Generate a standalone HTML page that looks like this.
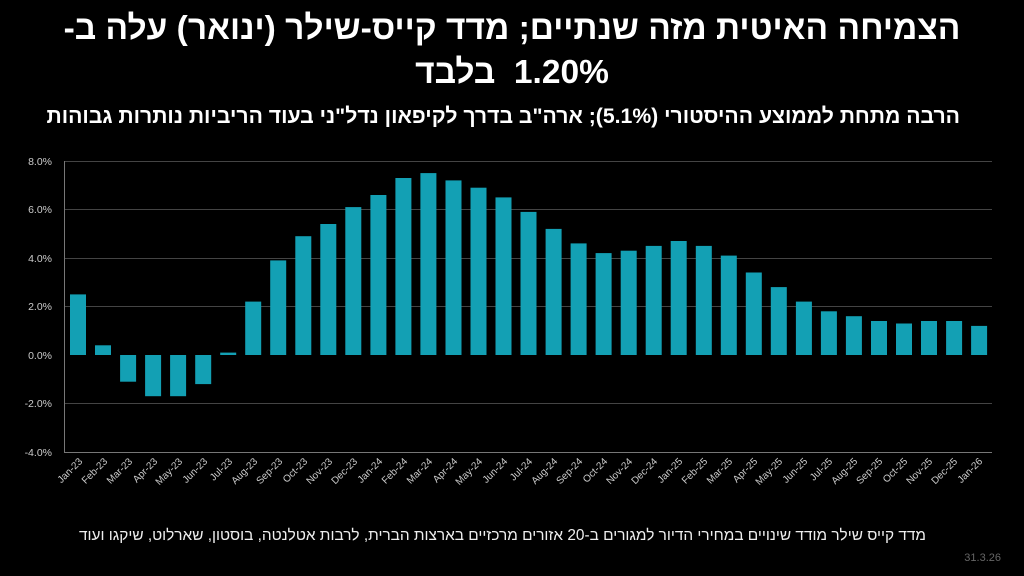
<!DOCTYPE html>
<html><head><meta charset="utf-8"><style>
body{margin:0;background:#000;width:1024px;height:576px;overflow:hidden;font-family:"Liberation Sans","Noto Sans CJK SC",sans-serif;color:#fff;position:relative}
.t{position:absolute;direction:rtl;white-space:nowrap}
</style></head><body>
<div class="t" style="left:0;width:1024px;text-align:center;top:7px;font-size:33.5px;font-weight:bold;line-height:44px">הצמיחה האיטית מזה שנתיים; מדד קייס-שילר (ינואר) עלה ב-<br>1.20%&nbsp;&nbsp;בלבד</div>
<div class="t" style="right:64px;top:105px;font-size:21.2px;font-weight:bold">הרבה מתחת לממוצע ההיסטורי (5.1%); ארה"ב בדרך לקיפאון נדל"ני בעוד הריביות נותרות גבוהות</div>
<div class="t" style="right:98px;top:527px;font-size:15.4px;color:#eee">מדד קייס שילר מודד שינויים במחירי הדיור למגורים ב-20 אזורים מרכזיים בארצות הברית, לרבות אטלנטה, בוסטון, שארלוט, שיקגו ועוד</div>
<div style="position:absolute;right:23px;top:552px;font-size:11px;color:#666">31.3.26</div>
<svg width="1024" height="576" style="position:absolute;left:0;top:0" font-family="Liberation Sans, sans-serif">
<g stroke="#444" stroke-width="1">
<line x1="64" x2="992" y1="161.5" y2="161.5"/><line x1="64" x2="992" y1="209.5" y2="209.5"/><line x1="64" x2="992" y1="258.5" y2="258.5"/><line x1="64" x2="992" y1="306.5" y2="306.5"/><line x1="64" x2="992" y1="403.5" y2="403.5"/>
</g>
<line x1="64.5" x2="64.5" y1="161" y2="452" stroke="#777"/>
<line x1="64" x2="992" y1="452.5" y2="452.5" stroke="#777"/>
<g fill="#ccc" font-size="10.5" text-anchor="end">
<text x="52" y="165">8.0%</text><text x="52" y="213">6.0%</text><text x="52" y="262">4.0%</text><text x="52" y="310">2.0%</text><text x="52" y="359">0.0%</text><text x="52" y="407">-2.0%</text><text x="52" y="456">-4.0%</text>
</g>
<g fill="#13a0b4">
<rect x="70" y="294.4" width="16" height="60.6"/>
<rect x="95" y="345.3" width="16" height="9.7"/>
<rect x="120.1" y="355" width="16" height="26.7"/>
<rect x="145.1" y="355" width="16" height="41.2"/>
<rect x="170.1" y="355" width="16" height="41.2"/>
<rect x="195.2" y="355" width="16" height="29.1"/>
<rect x="220.2" y="352.6" width="16" height="2.4"/>
<rect x="245.2" y="301.6" width="16" height="53.4"/>
<rect x="270.2" y="260.4" width="16" height="94.6"/>
<rect x="295.3" y="236.2" width="16" height="118.8"/>
<rect x="320.3" y="224" width="16" height="131"/>
<rect x="345.3" y="207.1" width="16" height="147.9"/>
<rect x="370.4" y="195" width="16" height="160"/>
<rect x="395.4" y="178" width="16" height="177"/>
<rect x="420.4" y="173.1" width="16" height="181.9"/>
<rect x="445.5" y="180.4" width="16" height="174.6"/>
<rect x="470.5" y="187.7" width="16" height="167.3"/>
<rect x="495.5" y="197.4" width="16" height="157.6"/>
<rect x="520.5" y="211.9" width="16" height="143.1"/>
<rect x="545.6" y="228.9" width="16" height="126.1"/>
<rect x="570.6" y="243.4" width="16" height="111.6"/>
<rect x="595.6" y="253.1" width="16" height="101.9"/>
<rect x="620.7" y="250.7" width="16" height="104.3"/>
<rect x="645.7" y="245.9" width="16" height="109.1"/>
<rect x="670.7" y="241" width="16" height="114"/>
<rect x="695.8" y="245.9" width="16" height="109.1"/>
<rect x="720.8" y="255.6" width="16" height="99.4"/>
<rect x="745.8" y="272.5" width="16" height="82.5"/>
<rect x="770.8" y="287.1" width="16" height="67.9"/>
<rect x="795.9" y="301.6" width="16" height="53.4"/>
<rect x="820.9" y="311.3" width="16" height="43.7"/>
<rect x="845.9" y="316.2" width="16" height="38.8"/>
<rect x="871" y="321" width="16" height="34"/>
<rect x="896" y="323.5" width="16" height="31.5"/>
<rect x="921" y="321" width="16" height="34"/>
<rect x="946.1" y="321" width="16" height="34"/>
<rect x="971.1" y="325.9" width="16" height="29.1"/>
</g>
<g fill="#ccc" font-size="10" text-anchor="end">
<text transform="translate(83,462) rotate(-45)">Jan-23</text>
<text transform="translate(108,462) rotate(-45)">Feb-23</text>
<text transform="translate(133,462) rotate(-45)">Mar-23</text>
<text transform="translate(158,462) rotate(-45)">Apr-23</text>
<text transform="translate(183,462) rotate(-45)">May-23</text>
<text transform="translate(208,462) rotate(-45)">Jun-23</text>
<text transform="translate(233,462) rotate(-45)">Jul-23</text>
<text transform="translate(258,462) rotate(-45)">Aug-23</text>
<text transform="translate(283,462) rotate(-45)">Sep-23</text>
<text transform="translate(308,462) rotate(-45)">Oct-23</text>
<text transform="translate(333,462) rotate(-45)">Nov-23</text>
<text transform="translate(358,462) rotate(-45)">Dec-23</text>
<text transform="translate(383,462) rotate(-45)">Jan-24</text>
<text transform="translate(408,462) rotate(-45)">Feb-24</text>
<text transform="translate(433,462) rotate(-45)">Mar-24</text>
<text transform="translate(458,462) rotate(-45)">Apr-24</text>
<text transform="translate(483,462) rotate(-45)">May-24</text>
<text transform="translate(508,462) rotate(-45)">Jun-24</text>
<text transform="translate(533,462) rotate(-45)">Jul-24</text>
<text transform="translate(558,462) rotate(-45)">Aug-24</text>
<text transform="translate(583,462) rotate(-45)">Sep-24</text>
<text transform="translate(608,462) rotate(-45)">Oct-24</text>
<text transform="translate(633,462) rotate(-45)">Nov-24</text>
<text transform="translate(658,462) rotate(-45)">Dec-24</text>
<text transform="translate(683,462) rotate(-45)">Jan-25</text>
<text transform="translate(708,462) rotate(-45)">Feb-25</text>
<text transform="translate(733,462) rotate(-45)">Mar-25</text>
<text transform="translate(758,462) rotate(-45)">Apr-25</text>
<text transform="translate(783,462) rotate(-45)">May-25</text>
<text transform="translate(808,462) rotate(-45)">Jun-25</text>
<text transform="translate(833,462) rotate(-45)">Jul-25</text>
<text transform="translate(858,462) rotate(-45)">Aug-25</text>
<text transform="translate(883,462) rotate(-45)">Sep-25</text>
<text transform="translate(908,462) rotate(-45)">Oct-25</text>
<text transform="translate(933,462) rotate(-45)">Nov-25</text>
<text transform="translate(958,462) rotate(-45)">Dec-25</text>
<text transform="translate(983,462) rotate(-45)">Jan-26</text>
</g>
</svg>
</body></html>
